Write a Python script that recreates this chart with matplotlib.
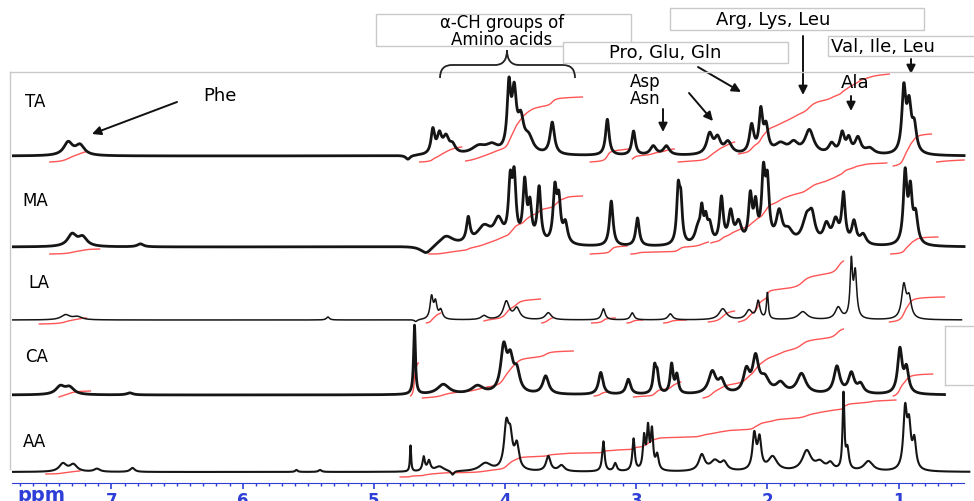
import numpy as np
import matplotlib.pyplot as plt
from matplotlib.patches import Rectangle, PathPatch
from matplotlib.path import Path
from matplotlib.lines import Line2D
from matplotlib.transforms import Affine2D

plt.rcParams['font.family'] = ['DejaVu Sans']

# ---- data: peaks (ppm, height, half width) ----
samples = ["TA", "MA", "LA", "CA", "AA"]

ta_peaks = [(7.33, 13, 0.03), (7.24, 10, 0.03), (4.74, -4, 0.015), (4.55, 24, 0.012),
            (4.50, 18, 0.015), (4.45, 16, 0.02), (4.40, 8, 0.02), (4.20, 8, 0.05),
            (4.10, 8, 0.04), (3.97, 62, 0.012), (3.93, 55, 0.015), (3.88, 30, 0.02),
            (3.82, 15, 0.03), (3.64, 32, 0.015), (3.22, 36, 0.012), (3.02, 24, 0.012),
            (2.87, 9, 0.02), (2.77, 9, 0.02), (2.44, 20, 0.02), (2.38, 15, 0.02),
            (2.30, 12, 0.025), (2.12, 28, 0.015), (2.05, 40, 0.012), (2.01, 25, 0.015),
            (1.90, 10, 0.04), (1.80, 10, 0.03), (1.68, 24, 0.03), (1.51, 10, 0.02),
            (1.43, 20, 0.015), (1.38, 14, 0.015), (1.31, 16, 0.02), (1.22, 6, 0.03),
            (0.96, 62, 0.013), (0.92, 45, 0.015), (0.88, 25, 0.015)]

ma_peaks = [(7.30, 12, 0.03), (7.22, 9, 0.03), (6.78, 3, 0.02), (4.60, -8, 0.04),
            (4.45, 10, 0.05), (4.28, 24, 0.012), (4.16, 18, 0.05), (4.05, 22, 0.03),
            (3.96, 55, 0.012), (3.93, 60, 0.012), (3.85, 58, 0.012), (3.81, 35, 0.012),
            (3.74, 55, 0.012), (3.62, 52, 0.012), (3.59, 40, 0.012), (3.54, 20, 0.015),
            (3.19, 45, 0.012), (2.99, 28, 0.012), (2.68, 52, 0.01), (2.66, 40, 0.01),
            (2.53, 15, 0.02), (2.50, 30, 0.01), (2.47, 20, 0.01), (2.44, 18, 0.015),
            (2.35, 45, 0.012), (2.28, 30, 0.015), (2.22, 20, 0.02), (2.13, 45, 0.012),
            (2.09, 35, 0.012), (2.03, 65, 0.012), (2.00, 55, 0.012), (1.91, 30, 0.02),
            (1.84, 12, 0.03), (1.70, 25, 0.03), (1.66, 22, 0.02), (1.55, 18, 0.02),
            (1.48, 22, 0.02), (1.42, 48, 0.012), (1.34, 22, 0.015), (1.27, 10, 0.02),
            (0.95, 70, 0.012), (0.91, 50, 0.012), (0.87, 28, 0.015)]

la_peaks = [(7.35, 5, 0.03), (7.26, 3, 0.03), (5.35, 3, 0.01), (4.68, -2, 0.01),
            (4.56, 22, 0.01), (4.53, 16, 0.01), (4.49, 9, 0.012), (4.16, 4, 0.02),
            (3.99, 18, 0.02), (3.91, 11, 0.02), (3.67, 7, 0.02), (3.25, 11, 0.012),
            (3.03, 7, 0.012), (2.74, 6, 0.015), (2.34, 11, 0.025), (2.14, 9, 0.02),
            (2.07, 18, 0.012), (2.00, 26, 0.006), (1.73, 8, 0.03), (1.46, 12, 0.02),
            (1.36, 55, 0.008), (1.33, 45, 0.01), (0.96, 33, 0.015), (0.92, 20, 0.015)]

ca_peaks = [(7.39, 8, 0.03), (7.32, 7, 0.03), (6.86, 2, 0.02), (4.69, 69, 0.006),
            (4.47, 10, 0.04), (4.21, 8, 0.04), (4.01, 44, 0.02), (3.96, 30, 0.02),
            (3.91, 20, 0.02), (3.69, 18, 0.02), (3.27, 22, 0.015), (3.06, 15, 0.015),
            (2.86, 25, 0.01), (2.84, 18, 0.01), (2.73, 29, 0.01), (2.69, 18, 0.01),
            (2.42, 22, 0.025), (2.35, 12, 0.02), (2.16, 22, 0.02), (2.09, 34, 0.02),
            (2.02, 14, 0.03), (1.90, 10, 0.03), (1.74, 20, 0.03), (1.47, 27, 0.02),
            (1.36, 20, 0.02), (1.29, 9, 0.02), (0.99, 44, 0.015), (0.94, 24, 0.015)]

aa_peaks = [(7.37, 8, 0.025), (7.29, 7, 0.025), (7.11, 3, 0.02), (6.84, 4, 0.015),
            (5.59, 2, 0.008), (5.41, 2, 0.01), (4.72, 26, 0.004), (4.62, 14, 0.008),
            (4.58, 10, 0.01), (4.50, 5, 0.03), (4.40, -4, 0.01), (4.15, 8, 0.04),
            (3.99, 42, 0.015), (3.96, 30, 0.015), (3.91, 24, 0.015), (3.67, 15, 0.015),
            (3.57, 6, 0.02), (3.25, 30, 0.008), (3.16, 8, 0.01), (3.02, 32, 0.008),
            (2.94, 32, 0.008), (2.91, 40, 0.008), (2.88, 38, 0.008), (2.84, 15, 0.01),
            (2.50, 16, 0.02), (2.40, 10, 0.03), (2.33, 8, 0.02), (2.10, 35, 0.012),
            (2.06, 30, 0.012), (1.96, 14, 0.03), (1.70, 20, 0.03), (1.60, 8, 0.03),
            (1.52, 7, 0.02), (1.42, 75, 0.006), (1.39, 20, 0.01), (1.23, 10, 0.03),
            (0.95, 58, 0.012), (0.92, 40, 0.012), (0.88, 28, 0.012)]

# integral segments: (start ppm, end ppm, start level, rise)
ta_integrals = [(7.47, 7.20, -6, 10), (4.65, 4.33, -6, 15), (4.30, 3.41, -5, 64),
                (3.35, 3.06, -6, 13), (3.03, 2.71, -3, 10), (2.68, 2.25, -6, 20),
                (2.22, 1.07, 2, 80), (1.04, 0.75, -10, 32), (0.71, 0.50, -6, 2)]
ma_integrals = [(7.47, 7.09, -7, 5), (4.58, 3.41, -7, 58), (3.35, 3.07, -7, 8),
                (3.04, 2.45, -7, 12), (2.43, 1.09, 4, 80), (1.06, 0.70, -7, 17)]
la_integrals = [(7.55, 7.19, -4, 6), (4.60, 4.49, -3, 10), (4.16, 3.73, -1, 22),
                (3.72, 3.64, -3, 5), (3.34, 3.16, -3, 5), (3.07, 2.95, -3, 3),
                (2.79, 2.62, -3, 3), (2.45, 2.25, -2, 11), (2.22, 1.42, -2, 61),
                (1.07, 0.65, -2, 25)]
ca_integrals = [(7.40, 7.16, -2, 6), (4.72, 4.66, -1, 33), (4.63, 4.13, -3, 11),
                (4.13, 3.48, 8, 36), (3.32, 3.22, -1, 4), (3.02, 2.66, -2, 15),
                (2.49, 1.42, -3, 69), (1.04, 0.74, -1, 22)]
aa_integrals = [(7.50, 7.24, -2, 3), (4.80, 1.02, -5, 77)]

peak_lists = [ta_peaks, ma_peaks, la_peaks, ca_peaks, aa_peaks]
integral_lists = [ta_integrals, ma_integrals, la_integrals, ca_integrals, aa_integrals]
spec_end = [0.50, 0.50, 0.52, 0.65, 0.46]

# layout (pixel rows of each baseline, label spots)
baselines = [157, 248, 321, 396, 473]
label_pos = [(25, 102), (22, 201), (28, 283), (25, 357), (23, 442)]
line_widths = [2.0, 2.0, 1.1, 2.0, 1.5]
broadening = 1.35

W, H = 974, 502
fig = plt.figure(figsize=(W / 100, H / 100), dpi=100)
pix = Affine2D().scale(1 / W, -1 / H).translate(0, 1) + fig.transFigure

ax = fig.add_axes([12 / W, 18 / H, (W - 12) / W, 484 / H])
ax.set_xlim(7.758, 0.425)
ax.set_ylim(484, 0)

x = np.linspace(7.76, 0.42, 9000)


def spectrum(peaks):
    y = np.zeros_like(x)
    for c, h, w in peaks:
        w = w * broadening
        y += h / (1 + ((x - c) / w) ** 2)
    return y


for i, name in enumerate(samples):
    y = spectrum(peak_lists[i])
    base = baselines[i]
    keep = x >= spec_end[i]
    ax.plot(x[keep], base - y[keep], color='#151515', lw=line_widths[i], zorder=3)
    for p0, p1, off, rise in integral_lists[i]:
        m = (x <= p0) & (x >= p1)
        c = np.cumsum(np.clip(y[m], 0, None))
        c = c / c[-1]
        ax.plot(x[m], base - (off + rise * c), color='#ff2a2a', lw=1.0,
                alpha=0.8, zorder=2)
    fig.text(*label_pos[i], name, transform=pix, fontsize=12, va='center',
             ha='left', zorder=5,
             bbox=dict(fc='white', ec='none', pad=2))

# ppm scale
blue = '#2d3fd6'
for s in ['top', 'left', 'right']:
    ax.spines[s].set_visible(False)
ax.spines['bottom'].set_color(blue)
ax.spines['bottom'].set_bounds(7.758, 0.50)
ax.set_yticks([])
ax.set_xticks(range(1, 8))
ax.set_xticks(np.arange(0.6, 7.75, 0.1), minor=True)
ax.tick_params(axis='x', which='major', colors=blue, length=4, width=1.2,
               pad=2.0, labelsize=12)
ax.tick_params(axis='x', which='minor', colors=blue, length=2, width=1)
for t in ax.get_xticklabels():
    t.set_fontweight('bold')
fig.text(17, 496, 'ppm', transform=pix, color=blue, fontsize=14,
         fontweight='bold', va='center', ha='left')

# frame lines left over from the stacked panels
frame = '#c9c9c9'
for xs, ys in [([10, 974], [73, 73]), ([10, 10], [73, 470]),
               ([945, 945], [327, 386]), ([945, 974], [327, 327]),
               ([945, 974], [386, 386])]:
    fig.add_artist(Line2D(xs, ys, transform=pix, color=frame, lw=1, zorder=1))

# labelled boxes
boxes = [(376, 15, 255, 32), (670, 9, 254, 22), (563, 43, 225, 21), (828, 37, 150, 20)]
for bx, by, bw, bh in boxes:
    fig.add_artist(Rectangle((bx, by + bh), bw, -bh, transform=pix, fc='white',
                             ec=frame, lw=1, zorder=4))

txt = dict(transform=pix, fontsize=13, ha='center', va='center', zorder=6)
small = dict(transform=pix, fontsize=12, ha='center', va='center', zorder=6)
fig.text(502, 23, 'α-CH groups of', **small)
fig.text(502, 40, 'Amino acids', **small)
fig.text(773, 20, 'Arg, Lys, Leu', **txt)
fig.text(665, 53, 'Pro, Glu, Gln', **txt)
fig.text(831, 47, 'Val, Ile, Leu', transform=pix, fontsize=13, ha='left',
         va='center', zorder=6)
fig.text(220, 96, 'Phe', **txt)
fig.text(645, 82, 'Asp', **small)
fig.text(645, 99, 'Asn', **small)
fig.text(855, 83, 'Ala', **txt)

# curly brace over the alpha-CH region
brace = Path([(440, 79), (440, 66), (452, 66), (495, 66), (507, 66), (507, 51),
              (507, 66), (519, 66), (563, 66), (575, 66), (575, 79)],
             [Path.MOVETO, Path.CURVE3, Path.CURVE3, Path.LINETO, Path.CURVE3,
              Path.CURVE3, Path.CURVE3, Path.CURVE3, Path.LINETO, Path.CURVE3,
              Path.CURVE3])
fig.add_artist(PathPatch(brace, transform=pix, fill=False, lw=1.3, ec='#222222'))

arrows = [((177, 103), (92, 135)), ((803, 37), (803, 96)), ((698, 68), (741, 93)),
          ((911, 60), (911, 75)), ((663, 110), (663, 133)), ((689, 94), (713, 122)),
          ((851, 97), (851, 112))]
for start, end in arrows:
    ax.annotate('', xy=end, xytext=start, xycoords=pix, textcoords=pix,
                arrowprops=dict(arrowstyle='-|>', color='#111111', lw=1.4,
                                mutation_scale=13, shrinkA=0, shrinkB=0))

fig.savefig('out.png', dpi=100)
